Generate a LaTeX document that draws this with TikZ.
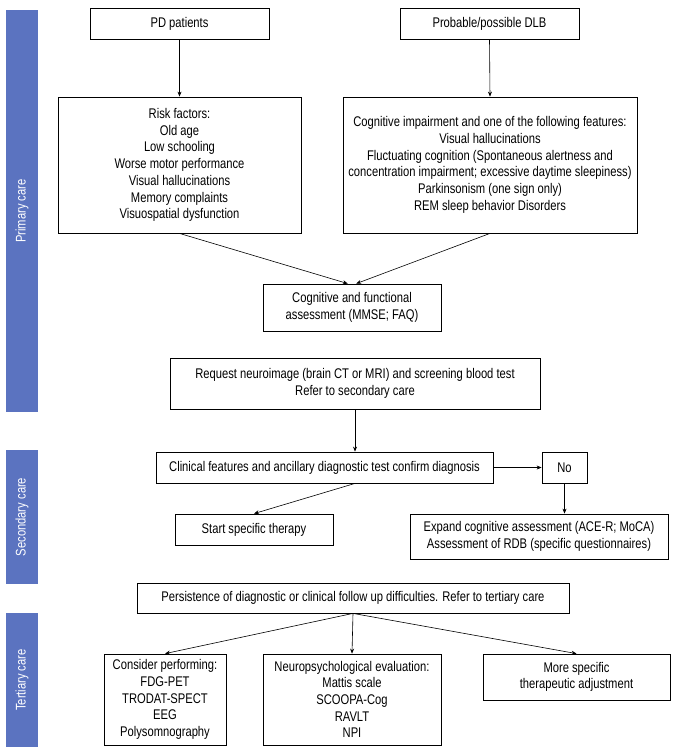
\documentclass[tikz,border=0pt]{standalone}
\usepackage{fontspec}
\setmainfont{Liberation Sans}[FakeStretch=0.8]
\usepackage{xcolor}
\usetikzlibrary{positioning, arrows.meta}
\definecolor{careblue}{RGB}{91,115,192}

\begin{document}
\begin{tikzpicture}[>={Stealth[length=5pt,width=4pt]}, x=1pt, y=-1pt,
    box/.style={draw, line width=0.8pt, align=center, inner sep=2pt,
      font=\fontsize{14}{16.7}\selectfont},
    carebar/.style={fill=careblue, text=white, rotate=90, minimum height=32pt,
      inner sep=0pt, font=\fontsize{14}{16.7}\selectfont},
    link/.style={->, line width=0.6pt}]
  \useasboundingbox (0,0) rectangle (680,752);

  % Care levels
  \node[carebar, minimum width=402pt] (primary) at (22,211) {Primary care};
  \node[carebar, minimum width=134pt] (secondary) at (22,517) {Secondary care};
  \node[carebar, minimum width=134pt] (tertiary) at (22,680) {Tertiary care};

  % Nodes
  \node[box, minimum width=179pt, minimum height=31pt] (pd) at (179.5,23.5) {PD patients};
  \node[box, minimum width=179pt, minimum height=31pt] (dlb) at (489.5,23.5) {Probable/possible DLB};
  \node[box, minimum width=243pt, minimum height=136pt] (risk) at (179.5,165)
    {Risk factors:\\Old age\\Low schooling\\Worse motor performance\\Visual hallucinations\\Memory complaints\\Visuospatial dysfunction};
  \node[box, minimum width=294pt, minimum height=136pt] (features) at (490,165)
    {Cognitive impairment and one of the following features:\\Visual hallucinations\\Fluctuating cognition (Spontaneous alertness and\\concentration impairment; excessive daytime sleepiness)\\Parkinsonism (one sign only)\\REM sleep behavior Disorders};
  \node[box, minimum width=178pt, minimum height=47pt] (assess) at (352,307.5)
    {Cognitive and functional\\assessment (MMSE; FAQ)};
  \node[box, minimum width=370pt, minimum height=51pt] (request) at (355,383.5)
    {Request neuroimage (brain CT or MRI) and screening blood test\\Refer to secondary care};
  \node[box, minimum width=337pt, minimum height=31pt] (confirm) at (324.5,467.5)
    {Clinical features and ancillary diagnostic test confirm diagnosis};
  \node[box, minimum width=45pt, minimum height=31pt] (no) at (564.5,467.5) {No};
  \node[box, minimum width=158pt, minimum height=31pt] (therapy) at (254,529.5) {Start specific therapy};
  \node[box, minimum width=258pt, minimum height=45pt] (expand) at (539,536.5)
    {Expand cognitive assessment (ACE-R; MoCA)\\Assessment of RDB (specific questionnaires)};
  \node[box, minimum width=432pt, minimum height=30pt] (persist) at (353,598)
    {Persistence of diagnostic or clinical follow up difficulties. Refer to tertiary care};
  \node[box, minimum width=122pt, minimum height=91pt] (perform) at (165,699.5)
    {Consider performing:\\FDG-PET\\TRODAT-SPECT\\EEG\\Polysomnography};
  \node[box, minimum width=178pt, minimum height=91pt] (neuro) at (352,699.5)
    {Neuropsychological evaluation:\\Mattis scale\\SCOOPA-Cog\\RAVLT\\NPI};
  \node[box, minimum width=187pt, minimum height=46pt] (adjust) at (576.5,677)
    {More specific\\therapeutic adjustment};

  % Arrows
  \draw[link] (pd.south) -- (risk.north);
  \draw[link] (dlb.south) -- (features.north);
  \draw[link] (risk.south) -- (assess.100);
  \draw[link] (features.south) -- (assess.80);
  \draw[link] (request.south) -- (request.south |- confirm.north);
  \draw[link] (confirm.east) -- (no.west);
  \draw[link] (confirm.south -| request.south) -- (therapy.north);
  \draw[link] (no.south) -- (no.south |- expand.north);
  \draw[link] (persist.south) -- (perform.north);
  \draw[link] (persist.south) -- (neuro.north);
  \draw[link] (persist.south) -- (adjust.north);
\end{tikzpicture}
\end{document}
